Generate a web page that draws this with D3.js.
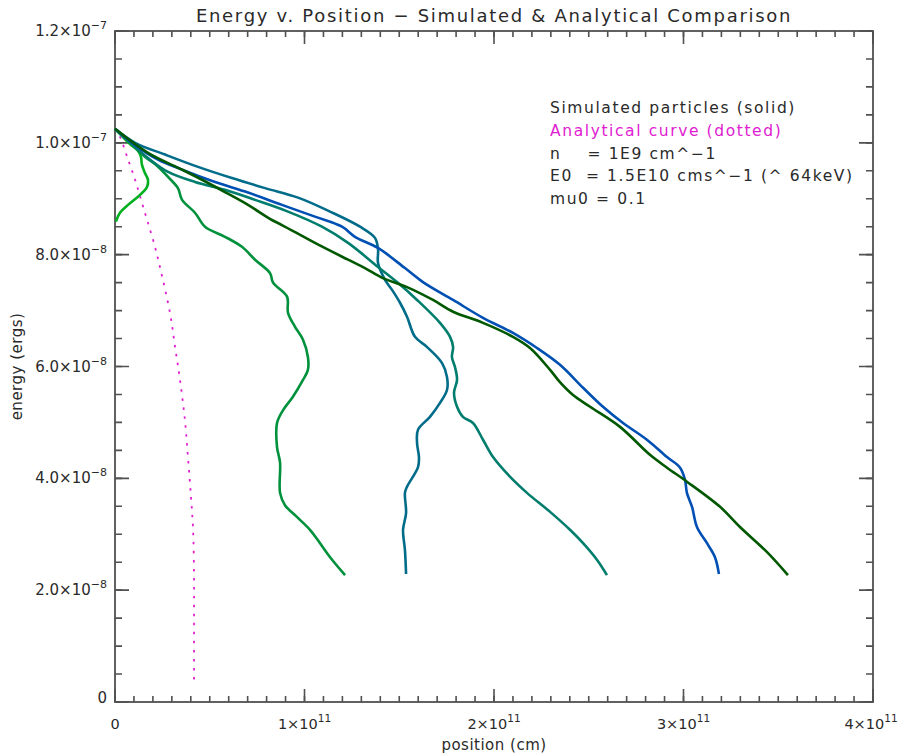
<!DOCTYPE html>
<html lang="en">
<head>
<meta charset="UTF-8">
<title>Energy v. Position</title>
<script src="https://cdnjs.cloudflare.com/ajax/libs/d3/7.8.5/d3.min.js"></script>
<style>
  body { margin: 0; background: #fff; }
  text { font-family: "DejaVu Sans", sans-serif; fill: #2a2a2a; }
</style>
</head>
<body>
<div id="chart"></div>
<script>
// units used in the arrays below
var XU = 1e11;   // position, cm
var EU = 1e-8;   // energy, ergs

// simulated particles (position x1e11 cm, energy x1e-8 ergs)
var posA = [0, 0.037, 0.079, 0.121, 0.137, 0.142, 0.158, 0.174, 0.169, 0.132, 0.069, 0.026, 0.005];
var enA  = [10.25, 10.12, 9.98, 9.86, 9.75, 9.61, 9.46, 9.34, 9.21, 9.07, 8.89, 8.75, 8.59];

var posB = [0, 0.079, 0.158, 0.211, 0.280, 0.332, 0.354, 0.422, 0.475, 0.580, 0.670, 0.739, 0.818, 0.834, 0.908, 0.913, 0.950, 0.992, 1.018, 1.018, 0.992, 0.939, 0.887, 0.855, 0.855, 0.871, 0.871, 0.897, 0.960, 1.029, 1.082, 1.135, 1.214];
var enB  = [10.25, 10.0, 9.75, 9.62, 9.39, 9.19, 8.98, 8.75, 8.50, 8.32, 8.14, 7.91, 7.67, 7.50, 7.25, 6.96, 6.71, 6.48, 6.17, 5.94, 5.76, 5.46, 5.22, 4.99, 4.56, 4.28, 3.74, 3.52, 3.31, 3.08, 2.84, 2.59, 2.27];

var posC = [0, 0.106, 0.264, 0.438, 0.617, 0.792, 0.966, 1.135, 1.293, 1.372, 1.388, 1.388, 1.425, 1.462, 1.504, 1.541, 1.583, 1.646, 1.726, 1.752, 1.752, 1.715, 1.662, 1.599, 1.594, 1.604, 1.599, 1.541, 1.530, 1.536, 1.520, 1.530, 1.536];
var enC  = [10.25, 10.0, 9.79, 9.57, 9.37, 9.19, 9.02, 8.77, 8.50, 8.30, 8.09, 7.85, 7.55, 7.37, 7.14, 6.89, 6.53, 6.35, 6.06, 5.81, 5.58, 5.35, 5.10, 4.87, 4.63, 4.38, 4.20, 3.85, 3.74, 3.38, 3.08, 2.72, 2.29];

var posD = [0, 0.174, 0.280, 0.422, 0.580, 0.739, 0.913, 1.092, 1.230, 1.388, 1.488, 1.594, 1.715, 1.768, 1.784, 1.778, 1.794, 1.805, 1.789, 1.805, 1.836, 1.889, 1.942, 1.995, 2.084, 2.174, 2.296, 2.401, 2.470, 2.544, 2.596];
var enD  = [10.25, 9.73, 9.48, 9.30, 9.16, 8.98, 8.77, 8.50, 8.21, 7.78, 7.51, 7.19, 6.78, 6.53, 6.35, 6.17, 5.99, 5.76, 5.53, 5.28, 5.10, 4.99, 4.69, 4.38, 4.03, 3.74, 3.40, 3.08, 2.84, 2.54, 2.27];

var posE = [0, 0.106, 0.227, 0.354, 0.528, 0.702, 0.881, 1.055, 1.198, 1.266, 1.388, 1.530, 1.625, 1.784, 1.942, 2.100, 2.227, 2.348, 2.470, 2.575, 2.681, 2.807, 2.913, 2.982, 3.008, 3.018, 3.045, 3.071, 3.124, 3.166, 3.187];
var enE  = [10.25, 9.96, 9.70, 9.52, 9.30, 9.11, 8.89, 8.68, 8.50, 8.32, 8.12, 7.76, 7.51, 7.19, 6.87, 6.60, 6.33, 6.03, 5.62, 5.28, 4.99, 4.69, 4.38, 4.19, 3.97, 3.74, 3.49, 3.13, 2.84, 2.59, 2.29];

var posF = [0, 0.174, 0.354, 0.459, 0.580, 0.702, 0.828, 0.881, 1.055, 1.230, 1.319, 1.414, 1.541, 1.678, 1.784, 1.942, 2.100, 2.190, 2.296, 2.348, 2.417, 2.507, 2.665, 2.823, 2.913, 3.018, 3.193, 3.298, 3.441, 3.551];
var enF  = [10.25, 9.82, 9.52, 9.34, 9.12, 8.89, 8.62, 8.53, 8.21, 7.91, 7.76, 7.58, 7.42, 7.19, 6.98, 6.78, 6.53, 6.33, 5.94, 5.72, 5.49, 5.28, 4.92, 4.42, 4.19, 3.94, 3.49, 3.13, 2.68, 2.27];

// analytical curve
var posAn = [0, 0.026, 0.069, 0.106, 0.142, 0.174, 0.211, 0.237, 0.290, 0.317, 0.343, 0.369, 0.385, 0.401, 0.412, 0.417, 0.417, 0.417];
var enAn  = [10.25, 10.11, 9.70, 9.34, 8.93, 8.57, 8.14, 7.78, 6.96, 6.35, 5.76, 5.04, 4.38, 3.67, 3.08, 2.24, 1.47, 0.30];

var simColors = ["#00b020", "#00913c", "#006c8a", "#007d6c", "#0050b4", "#005800"];

// ticks
var xMajor = [0, 1, 2, 3, 4];
var xMant  = ["0", "1", "2", "3", "4"];
var xExp   = ["", "11", "11", "11", "11"];
var yMajor = [0, 2, 4, 6, 8, 10, 12];
var yMant  = ["0", "2.0", "4.0", "6.0", "8.0", "1.0", "1.2"];
var yExp   = ["", "\u22128", "\u22128", "\u22128", "\u22128", "\u22127", "\u22127"];

var legendLines = [
  "Simulated particles (solid)",
  "Analytical curve (dotted)",
  "n    = 1E9 cm^\u22121",
  "E0  = 1.5E10 cms^\u22121 (^ 64keV)",
  "mu0 = 0.1"
];
var legendColors = ["#2a2a2a", "#e020d0", "#2a2a2a", "#2a2a2a", "#2a2a2a"];

var W = 900, H = 755;
var L = 115, R = 873, T = 31, B = 702;

var svg = d3.select("#chart").append("svg").attr("width", W).attr("height", H);

var x = d3.scaleLinear().domain([0, 4e11]).range([L, R]);
var y = d3.scaleLinear().domain([0, 1.2e-7]).range([B, T]);

var xMinor = d3.range(0, 41).map(function(i) { return i * 1e10; });
var yMinor = d3.range(0, 25).map(function(i) { return i * 5e-9; });
var xM = xMajor.map(function(v) { return v * XU; });
var yM = yMajor.map(function(v) { return v * EU; });

var axisColor = "#505050";

// frame
svg.append("rect")
  .attr("x", L).attr("y", T).attr("width", R - L).attr("height", B - T)
  .attr("fill", "none").attr("stroke", axisColor).attr("stroke-width", 1.8);

// ticks on all four sides, pointing inward, one path per set
function tickPath(vals, len) {
  var d = "";
  vals.forEach(function(v) {
    var px = x(v);
    d += "M" + px + "," + B + "V" + (B - len);
    d += "M" + px + "," + T + "V" + (T + len);
  });
  return d;
}
function tickPathY(vals, len) {
  var d = "";
  vals.forEach(function(v) {
    var py = y(v);
    d += "M" + L + "," + py + "H" + (L + len);
    d += "M" + R + "," + py + "H" + (R - len);
  });
  return d;
}
[tickPath(xMinor, 6), tickPath(xM, 13), tickPathY(yMinor, 7), tickPathY(yM, 14)].forEach(function(d) {
  svg.append("path").attr("d", d).attr("fill", "none")
    .attr("stroke", axisColor).attr("stroke-width", 1.6);
});

// tick labels with superscripts
function sciLabel(sel, mant, exp, fs) {
  sel.append("tspan").text(mant + (exp ? "\u00d710" : ""));
  if (exp) sel.append("tspan").attr("dy", -7).attr("font-size", fs).text(exp);
}

xMajor.forEach(function(v, i) {
  var t = svg.append("text")
    .attr("x", x(v * XU) - (i === xMajor.length - 1 ? 2 : 0))
    .attr("y", B + 27)
    .attr("text-anchor", "middle")
    .attr("font-size", 14.5);
  sciLabel(t, xMant[i], xExp[i], 10.5);
});

yMajor.forEach(function(v, i) {
  var t = svg.append("text")
    .attr("x", L - 8)
    .attr("y", y(v * EU) + (i === 0 ? 1 : 5))
    .attr("text-anchor", "end")
    .attr("font-size", 15);
  sciLabel(t, yMant[i], yExp[i], 11);
});

// titles
svg.append("text")
  .attr("x", (L + R) / 2).attr("y", 22)
  .attr("text-anchor", "middle").attr("font-size", 18).attr("letter-spacing", 1.7)
  .text("Energy v. Position \u2212 Simulated & Analytical Comparison");

svg.append("text")
  .attr("x", (L + R) / 2).attr("y", 750)
  .attr("text-anchor", "middle").attr("font-size", 15).attr("letter-spacing", 0.5)
  .text("position (cm)");

svg.append("text")
  .attr("transform", "translate(22," + ((T + B) / 2) + ") rotate(-90)")
  .attr("text-anchor", "middle").attr("font-size", 15).attr("letter-spacing", 0.5)
  .text("energy (ergs)");

// curves
var line = d3.line()
  .x(function(d) { return x(d[0] * XU); })
  .y(function(d) { return y(d[1] * EU); })
  .curve(d3.curveCatmullRom.alpha(0.5));

function zip(a, b) { return a.map(function(v, i) { return [v, b[i]]; }); }

var sims = [zip(posA, enA), zip(posB, enB), zip(posC, enC), zip(posD, enD), zip(posE, enE), zip(posF, enF)];

svg.append("path")
  .attr("d", line(zip(posAn, enAn)))
  .attr("fill", "none")
  .attr("stroke", "#e020d0")
  .attr("stroke-width", 1.8)
  .attr("stroke-dasharray", "2.5,6.5");

svg.selectAll(".sim")
  .data(sims)
  .enter().append("path")
  .attr("class", "sim")
  .attr("d", line)
  .attr("fill", "none")
  .attr("stroke", function(d, i) { return simColors[i]; })
  .attr("stroke-width", 2.6)
  .attr("stroke-linejoin", "round");

// legend
legendLines.forEach(function(s, i) {
  svg.append("text")
    .attr("x", 550).attr("y", 113 + i * 22.8)
    .attr("font-size", 15.5).attr("letter-spacing", 1.6)
    .style("fill", legendColors[i])
    .style("white-space", "pre")
    .text(s);
});
</script>
</body>
</html>
